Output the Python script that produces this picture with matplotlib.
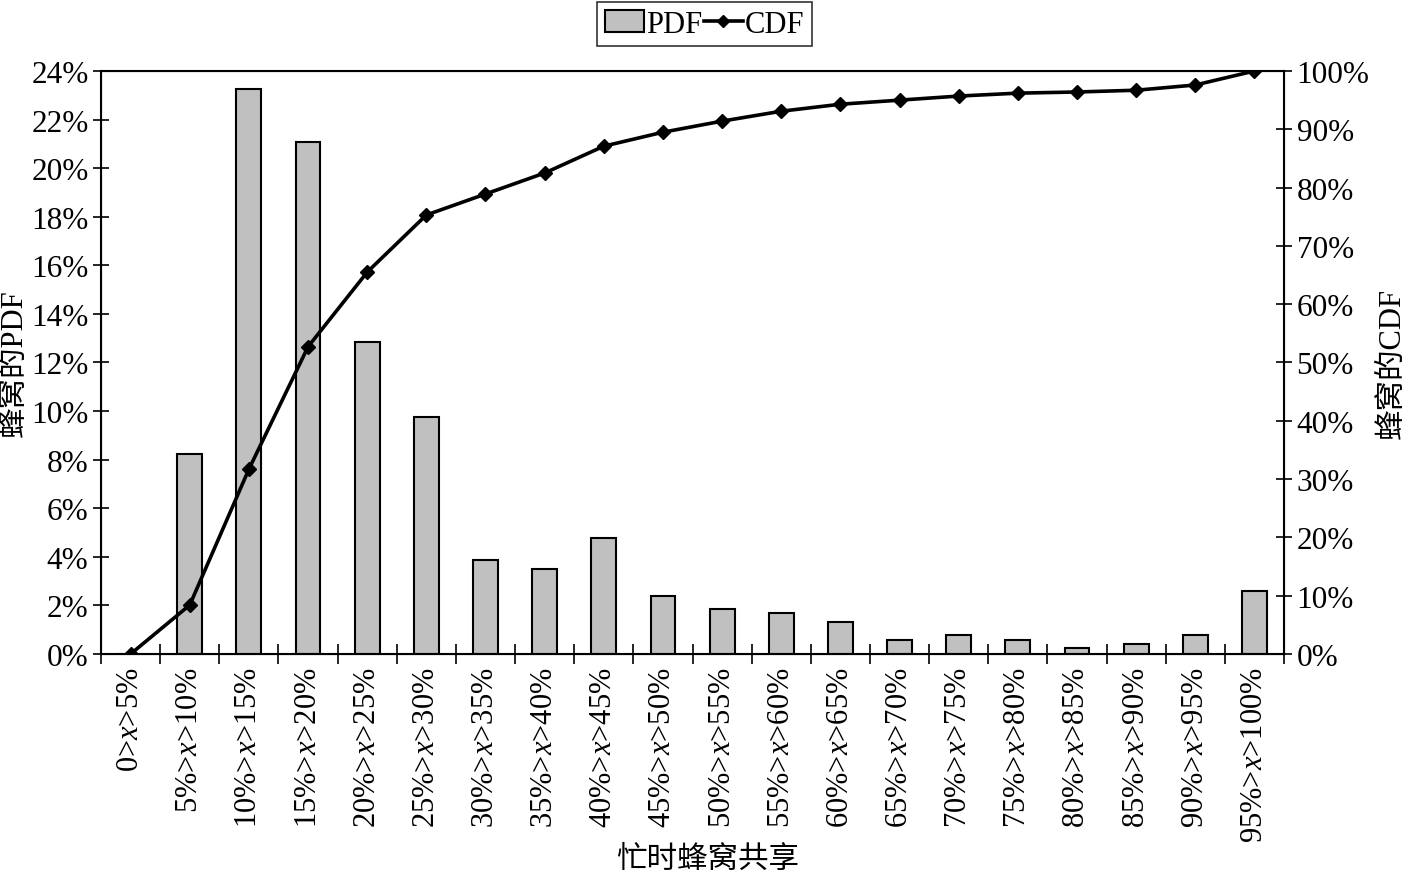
import matplotlib
matplotlib.use("Agg")
import matplotlib.pyplot as plt
from matplotlib.ticker import PercentFormatter, FixedLocator
from matplotlib.lines import Line2D
from matplotlib.patches import Patch

plt.rcParams['font.family'] = ['Liberation Serif', 'Noto Sans CJK SC', 'DejaVu Sans']
plt.rcParams['mathtext.fontset'] = 'custom'
plt.rcParams['mathtext.it'] = 'Liberation Serif:italic'
plt.rcParams['mathtext.rm'] = 'Liberation Serif'

categories = ["0>$x$>5%", "5%>$x$>10%", "10%>$x$>15%", "15%>$x$>20%", "20%>$x$>25%",
              "25%>$x$>30%", "30%>$x$>35%", "35%>$x$>40%", "40%>$x$>45%", "45%>$x$>50%",
              "50%>$x$>55%", "55%>$x$>60%", "60%>$x$>65%", "65%>$x$>70%", "70%>$x$>75%",
              "75%>$x$>80%", "80%>$x$>85%", "85%>$x$>90%", "90%>$x$>95%", "95%>$x$>100%"]
pdf = [0.0, 8.23, 23.26, 21.08, 12.85, 9.76, 3.87, 3.50, 4.78, 2.39,
       1.85, 1.69, 1.32, 0.58, 0.78, 0.58, 0.25, 0.41, 0.78, 2.59]
cdf = [0.0, 8.4, 31.7, 52.7, 65.5, 75.3, 78.9, 82.5, 87.1, 89.5,
       91.4, 93.1, 94.3, 95.0, 95.7, 96.2, 96.4, 96.7, 97.6, 100.0]

FS = 22.5

fig = plt.figure(figsize=(14.09, 8.78), dpi=100)
ax = fig.add_axes([0.0717, 0.254, 0.8396, 0.664])
x = list(range(len(categories)))
ax.bar(x, pdf, width=0.42, color='#c0c0c0', edgecolor='black', linewidth=1.5, zorder=2)
ax.set_xlim(-0.5, len(categories) - 0.5)
ax.set_ylim(0, 24)
ax.set_yticks(range(0, 25, 2))
ax.yaxis.set_major_formatter(PercentFormatter(decimals=0))
ax.set_xticks(x)
ax.set_xticklabels(categories, rotation=90, fontsize=22)
ax.tick_params(axis='x', which='major', length=0, pad=9)
ax.xaxis.set_minor_locator(FixedLocator([i + 0.5 for i in range(-1, len(categories))]))
ax.tick_params(axis='x', which='minor', direction='inout', length=14, width=1.2)
ax.tick_params(axis='y', direction='inout', length=12, width=1.2, labelsize=FS, pad=3)
for s in ax.spines.values():
    s.set_linewidth(1.5)
ax.set_ylabel("蜂窝的PDF", fontsize=22, labelpad=2)
ax.set_xlabel("忙时蜂窝共享", fontsize=22)
ax.xaxis.set_label_coords(0.513, -0.328)

ax2 = ax.twinx()
ax2.plot(x, cdf, color='black', linewidth=2.6, marker='D', markersize=7, zorder=3)
ax2.set_ylim(0, 100)
ax2.set_yticks(range(0, 101, 10))
ax2.yaxis.set_major_formatter(PercentFormatter(decimals=0))
ax2.tick_params(axis='y', direction='inout', length=12, width=1.2, labelsize=FS, pad=3)
ax2.set_ylabel("蜂窝的CDF", fontsize=22, labelpad=6)

handles = [Patch(facecolor='#c0c0c0', edgecolor='black', linewidth=1.5),
           Line2D([0], [0], color='black', linewidth=2.6, marker='D', markersize=6)]
leg = fig.legend(handles, ["PDF", "CDF"], loc='upper center', bbox_to_anchor=(0.5, 1.0),
                 ncol=2, fontsize=22, frameon=True, fancybox=False, handlelength=1.3,
                 handletextpad=0.05, columnspacing=0.05, borderpad=0.25, borderaxespad=0.1)
leg.get_frame().set_edgecolor('black')
leg.get_frame().set_linewidth(1.2)

fig.savefig("out.png", dpi=100)
